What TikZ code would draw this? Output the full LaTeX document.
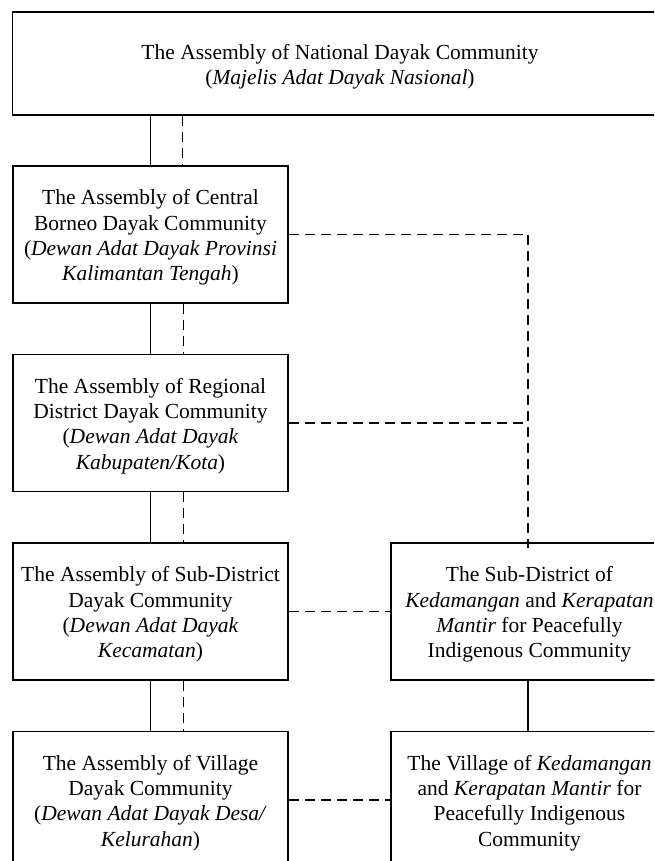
\documentclass[tikz,border=0pt]{standalone}
\usepackage{fontspec}
\setmainfont{Liberation Serif}
\newcommand\firststrut{\rule{0pt}{21pt}}
\begin{document}
\begin{tikzpicture}[x=1pt,y=-1pt,
  box/.style={draw=black,line width=1.6pt,fill=none,align=center,inner sep=0pt,
    font=\fontsize{21.5}{25.3}\selectfont},
  solidline/.style={line width=1.4pt},
  dashline/.style={line width=1.4pt,dash pattern=on 10pt off 6pt}]
\useasboundingbox (0,0) rectangle (654,861);
\clip (0,0) rectangle (654,861);
\node[box,minimum width=655pt,minimum height=103pt] (nat) at (340,63.5)
  {\firststrut The Assembly of National Dayak Community\\(\textit{Majelis Adat Dayak Nasional})};
\node[box,minimum width=275pt,minimum height=137pt] (prov) at (150.5,234.5)
  {\firststrut The Assembly of Central\\Borneo Dayak Community\\(\textit{Dewan Adat Dayak Provinsi}\\\textit{Kalimantan Tengah})};
\node[box,minimum width=275pt,minimum height=137pt] (kab) at (150.5,423)
  {\firststrut The Assembly of Regional\\District Dayak Community\\(\textit{Dewan Adat Dayak}\\\textit{Kabupaten/Kota})};
\node[box,minimum width=275pt,minimum height=137pt] (kec) at (150.5,611.5)
  {\firststrut The Assembly of Sub-District\\Dayak Community\\(\textit{Dewan Adat Dayak}\\\textit{Kecamatan})};
\node[box,minimum width=275pt,minimum height=137pt] (desa) at (150.5,800)
  {\firststrut The Assembly of Village\\Dayak Community\\(\textit{Dewan Adat Dayak Desa/}\\\textit{Kelurahan})};
\node[box,minimum width=277pt,minimum height=137pt] (dkec) at (529.5,611.5)
  {\firststrut The Sub-District of\\\textit{Kedamangan} and \textit{Kerapatan}\\\textit{Mantir} for Peacefully\\Indigenous Community};
\node[box,minimum width=277pt,minimum height=137pt] (ddesa) at (529.5,800)
  {\firststrut The Village of \textit{Kedamangan}\\and \textit{Kerapatan Mantir} for\\Peacefully Indigenous\\Community};
% solid hierarchy
\draw[solidline] (prov.north) -- (prov.north |- nat.south);
\draw[solidline] (kab.north) -- (kab.north |- prov.south);
\draw[solidline] (kec.north) -- (kec.north |- kab.south);
\draw[solidline] (desa.north) -- (desa.north |- kec.south);
\draw[solidline] ([xshift=-1.5pt]ddesa.north) -- ([xshift=-1.5pt]ddesa.north |- dkec.south);
% dashed coordination
\draw[dashline] ([xshift=32pt]nat.south -| prov.north) -- ([xshift=32pt]prov.north);
\draw[dashline] ([xshift=33pt]prov.south) -- ([xshift=33pt]kab.north);
\draw[dashline] ([xshift=33pt]kab.south) -- ([xshift=33pt]kec.north);
\draw[dashline] ([xshift=33pt]kec.south) -- ([xshift=33pt]desa.north);
\coordinate (corner) at ([xshift=-1.5pt]dkec.north |- prov.east);
\draw[dashline] (prov.east) -- (corner) -- ([xshift=-1.5pt,yshift=-6pt]dkec.north);
\draw[dashline] (kab.east) -- (kab.east -| corner);
\draw[dashline] (kec.east) -- (dkec.west);
\draw[dashline] (desa.east) -- (ddesa.west);
\end{tikzpicture}
\end{document}
